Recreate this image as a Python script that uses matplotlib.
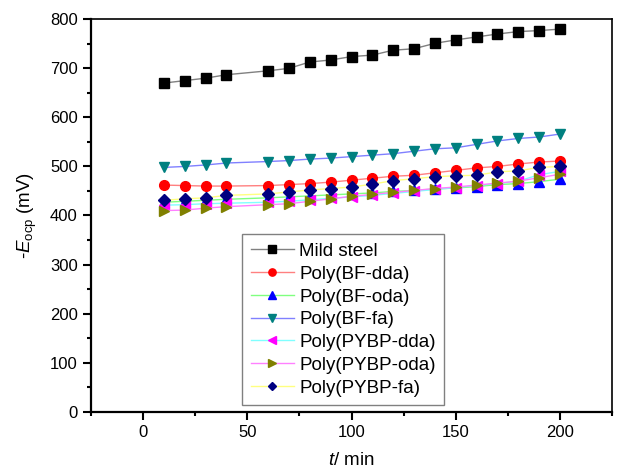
import numpy as np
import matplotlib
matplotlib.use('Agg')
import matplotlib.pyplot as plt
from matplotlib.ticker import MultipleLocator

plt.rcParams['font.family'] = ['Liberation Sans', 'DejaVu Sans']
plt.rcParams['mathtext.fontset'] = 'custom'
plt.rcParams['mathtext.rm'] = 'Liberation Sans'
plt.rcParams['mathtext.it'] = 'Liberation Sans:italic'

# time in minutes (no reading at 50 min)
t = [10, 20, 30, 40, 60, 70, 80, 90, 100, 110, 120, 130, 140, 150, 160, 170, 180, 190, 200]

mild_steel = [670, 675, 680, 687, 695, 700, 713, 717, 724, 727, 737, 740, 751, 758, 764, 770, 775, 777, 780]
bf_dda = [462, 461, 460, 460, 461, 463, 465, 468, 472, 476, 480, 482, 487, 492, 497, 500, 505, 509, 511]
bf_oda = [427, 429, 431, 433, 436, 438, 440, 442, 444, 446, 449, 451, 454, 456, 459, 463, 465, 469, 474]
bf_fa = [498, 500, 503, 507, 510, 512, 515, 517, 520, 523, 526, 531, 536, 538, 545, 552, 557, 560, 566]
pybp_dda = [421, 422, 424, 425, 427, 429, 432, 435, 438, 441, 445, 449, 453, 457, 461, 465, 470, 483, 490]
pybp_oda = [410, 411, 415, 418, 422, 424, 429, 434, 439, 443, 447, 451, 455, 458, 462, 466, 470, 477, 484]
pybp_fa = [431, 434, 436, 441, 444, 448, 452, 455, 458, 464, 471, 475, 479, 481, 482, 489, 491, 498, 500]

series = [
    ('Mild steel', mild_steel, 's', 'black', '#808080'),
    ('Poly(BF-dda)', bf_dda, 'o', 'red', '#ff8080'),
    ('Poly(BF-oda)', bf_oda, '^', 'blue', '#80ff80'),
    ('Poly(BF-fa)', bf_fa, 'v', '#008080', '#8080ff'),
    ('Poly(PYBP-dda)', pybp_dda, '<', 'magenta', '#80ffff'),
    ('Poly(PYBP-oda)', pybp_oda, '>', '#808000', '#ff80ff'),
    ('Poly(PYBP-fa)', pybp_fa, 'D', '#000080', '#ffff80'),
]

fig = plt.figure(figsize=(6.25, 4.71), dpi=100)
ax = fig.add_axes([0.1456, 0.126, 0.8336, 0.833])

for name, vals, mk, mc, lc in series:
    ms = 6 if mk == 'D' else 7
    ax.plot(t, vals, color=lc, lw=1.0, marker=mk, markersize=ms,
            markerfacecolor=mc, markeredgecolor=mc, label=name)

ax.set_xlim(-25, 225)
ax.set_ylim(0, 800)
ax.xaxis.set_major_locator(MultipleLocator(50))
ax.xaxis.set_minor_locator(MultipleLocator(25))
ax.yaxis.set_major_locator(MultipleLocator(100))
ax.yaxis.set_minor_locator(MultipleLocator(50))
ax.tick_params(which='major', direction='out', length=5.5, width=1.5, labelsize=12, pad=4,
               top=False, right=False)
ax.tick_params(which='minor', direction='out', length=3, width=1.5, top=False, right=False)
for s in ['left', 'bottom']:
    ax.spines[s].set_linewidth(1.6)
for s in ['top', 'right']:
    ax.spines[s].set_linewidth(1.2)

ax.set_xlabel(r'$\mathit{t}$/ min', fontsize=13.5, labelpad=9)
ax.set_ylabel(r'-$\mathit{E}_{\rm ocp}$ (mV)', fontsize=13.5, labelpad=8)

leg = ax.legend(loc='lower left', bbox_to_anchor=(0.29, 0.017), fontsize=13.5,
                fancybox=False, edgecolor='#808080', framealpha=1, markerscale=0.75,
                handlelength=2.3, labelspacing=0.3, borderpad=0.45, handletextpad=0.3,
                borderaxespad=0.0)
leg.get_frame().set_linewidth(1.0)

fig.savefig('out.png', dpi=100)
